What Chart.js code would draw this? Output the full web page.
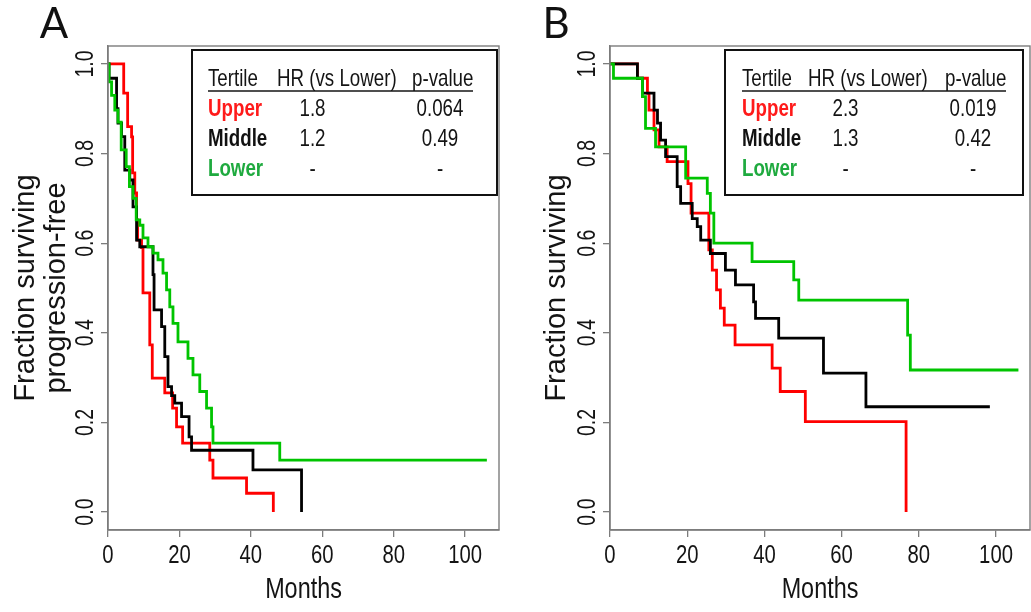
<!DOCTYPE html>
<html><head><meta charset="utf-8">
<script src="https://cdn.jsdelivr.net/npm/chart.js@4.4.1/dist/chart.umd.min.js"></script>
<style>
html,body{margin:0;padding:0;background:#fff;}
#wrap{position:relative;width:1031px;height:612px;overflow:hidden;background:#fff;}
#cA{position:absolute;left:0;top:0;}
#cB{position:absolute;left:505px;top:0;}
</style></head><body>
<div id="wrap"><canvas id="cA" width="505" height="612"></canvas><canvas id="cB" width="526" height="612"></canvas></div>
<script>
// ---------- data ----------
const xTicks = [0, 20, 40, 60, 80, 100];
const yTicks = [0, 0.2, 0.4, 0.6, 0.8, 1.0];
const seriesNames = ['Upper', 'Middle', 'Lower'];
const tableHeaders = ['Tertile', 'HR (vs Lower)', 'p-value'];
const hrA = ['1.8', '1.2', '-'];
const pA = ['0.064', '0.49', '-'];
const hrB = ['2.3', '1.3', '-'];
const pB = ['0.019', '0.42', '-'];

// Panel A (progression-free)
const upperA_t = [0, 4.4, 5.5, 6.6, 6.9, 7.5, 8.0, 8.3, 9.4, 9.8, 11.7, 12.4, 15.9, 18.1, 19.2, 20.9, 28.5, 29.4, 38.8, 46.3];
const upperA_s = [1.0, 0.935, 0.86, 0.837, 0.757, 0.712, 0.652, 0.607, 0.59, 0.489, 0.373, 0.299, 0.266, 0.232, 0.19, 0.154, 0.116, 0.076, 0.042, 0.0];
const middleA_t = [0, 0.3, 2.4, 2.8, 3.8, 4.7, 6.1, 7.0, 8.0, 8.9, 12.6, 12.9, 15.0, 15.9, 16.8, 17.8, 18.7, 20.6, 22.7, 23.4, 40.6, 54.2];
const middleA_s = [1.0, 0.968, 0.90, 0.868, 0.838, 0.763, 0.741, 0.681, 0.607, 0.592, 0.53, 0.451, 0.414, 0.347, 0.28, 0.26, 0.243, 0.213, 0.168, 0.138, 0.094, 0.0];
const lowerA_t = [0, 0.3, 1.0, 1.9, 2.8, 3.7, 5.1, 6.0, 7.0, 7.9, 8.9, 9.8, 11.2, 12.6, 14.0, 15.4, 16.4, 17.3, 18.2, 19.6, 22.4, 23.8, 25.7, 27.6, 29.0, 29.4, 48.1, 106.1];
const lowerA_s = [1.0, 0.96, 0.93, 0.897, 0.87, 0.808, 0.771, 0.726, 0.70, 0.652, 0.64, 0.612, 0.592, 0.578, 0.563, 0.533, 0.496, 0.458, 0.421, 0.38, 0.343, 0.306, 0.269, 0.232, 0.19, 0.154, 0.116, 0.116];

// Panel B (overall)
const upperB_t = [0, 7.1, 9.7, 10.1, 11.4, 12.7, 14.8, 20.2, 21.0, 25.6, 26.5, 27.6, 28.6, 29.6, 32.4, 42.0, 44.1, 50.6, 76.7];
const upperB_s = [1.0, 0.968, 0.935, 0.897, 0.853, 0.815, 0.782, 0.733, 0.667, 0.585, 0.54, 0.496, 0.455, 0.417, 0.373, 0.321, 0.269, 0.202, 0.0];
const middleB_t = [0, 7.1, 8.4, 11.4, 12.3, 13.1, 14.4, 17.4, 18.3, 21.3, 22.6, 23.5, 26.0, 29.9, 32.5, 37.2, 37.7, 43.7, 55.3, 66.3, 98.4];
const middleB_s = [1.0, 0.968, 0.935, 0.897, 0.868, 0.83, 0.793, 0.726, 0.689, 0.655, 0.637, 0.607, 0.577, 0.54, 0.507, 0.469, 0.432, 0.388, 0.31, 0.235, 0.235];
const lowerB_t = [0, 0.9, 8.4, 9.2, 11.8, 19.6, 25.2, 26.0, 26.9, 36.8, 47.6, 48.9, 77.1, 77.8, 105.8];
const lowerB_s = [1.0, 0.968, 0.927, 0.856, 0.815, 0.745, 0.711, 0.667, 0.60, 0.559, 0.518, 0.473, 0.395, 0.317, 0.317];

// ---------- styling ----------
const lineColors = ['#ff0000', '#000000', '#00c400'];
const textColors = ['#ff1a1a', '#111111', '#1faa3f'];
const COND_FAMILY = '"Liberation Sans", sans-serif';   // drawn horizontally condensed
const PLAIN_FAMILY = 'Arial, sans-serif';               // drawn without condensing
const COND = 0.78;
const AXIS_GRAY = '#7c7c7c';
const TEXT = '#141414';

// Emulate a narrow (condensed) sans face: scale glyphs along the reading direction.
function condense(ctx) {
  const orig = CanvasRenderingContext2D.prototype.fillText;
  ctx.fillText = function (text, x, y, maxWidth) {
    const hasMax = maxWidth !== undefined && maxWidth !== null;
    if (!/Liberation Sans/.test(this.font)) {
      return hasMax ? orig.call(this, text, x, y, maxWidth) : orig.call(this, text, x, y);
    }
    this.save();
    this.translate(x, y);
    this.scale(COND, 1);
    if (hasMax) orig.call(this, text, 0, 0, maxWidth / COND); else orig.call(this, text, 0, 0);
    this.restore();
  };
}

function pts(t, s) { return t.map((v, i) => ({x: v, y: s[i]})); }

function makeTablePlugin(cfg) {
  return {
    id: 'kmTable',
    afterDatasetsDraw(chart) {
      const ctx = chart.ctx;
      const a = chart.chartArea;
      ctx.save();
      ctx.strokeStyle = AXIS_GRAY;
      ctx.lineWidth = 1.4;
      ctx.strokeRect(a.left, a.top, a.right - a.left, a.bottom - a.top);
      const b = cfg.box;
      ctx.fillStyle = '#fff';
      ctx.fillRect(b[0], b[1], b[2] - b[0], b[3] - b[1]);
      ctx.strokeStyle = '#111';
      ctx.lineWidth = 2;
      ctx.strokeRect(b[0], b[1], b[2] - b[0], b[3] - b[1]);
      ctx.textBaseline = 'alphabetic';
      ctx.font = '24px ' + COND_FAMILY;
      ctx.fillStyle = TEXT;
      ctx.textAlign = 'left';
      ctx.fillText(tableHeaders[0], cfg.colTertile, cfg.rows[0]);
      ctx.fillText(tableHeaders[1], cfg.colHRhead, cfg.rows[0]);
      ctx.fillText(tableHeaders[2], cfg.colPhead, cfg.rows[0]);
      ctx.strokeStyle = TEXT;
      ctx.lineWidth = 1.5;
      ctx.beginPath();
      ctx.moveTo(cfg.colTertile, cfg.underline);
      ctx.lineTo(cfg.underlineEnd, cfg.underline);
      ctx.stroke();
      for (let i = 0; i < 3; i++) {
        const y = cfg.rows[i + 1];
        ctx.textAlign = 'left';
        ctx.font = 'bold 24px ' + COND_FAMILY;
        ctx.fillStyle = textColors[i];
        ctx.fillText(seriesNames[i], cfg.colTertile, y);
        ctx.font = '24px ' + COND_FAMILY;
        ctx.fillStyle = TEXT;
        ctx.textAlign = 'center';
        ctx.fillText(cfg.hr[i], cfg.colHR, y);
        ctx.fillText(cfg.p[i], cfg.colP, y);
      }
      ctx.font = '42px Lato, "Open Sans", sans-serif';
      ctx.fillStyle = '#111';
      ctx.textAlign = 'center';
      ctx.fillText(cfg.letter, cfg.letterX, 38);
      ctx.restore();
    }
  };
}

function makePanel(canvas, p) {
  condense(canvas.getContext('2d'));
  const datasets = p.series.map((s, i) => ({
    label: seriesNames[i],
    data: pts(s[0], s[1]),
    borderColor: lineColors[i],
    borderWidth: 2.8,
    pointRadius: 0,
    fill: false,
    stepped: 'before',
    order: 3 - i
  }));
  return new Chart(canvas, {
    type: 'line',
    data: {datasets},
    options: {
      responsive: false,
      animation: false,
      devicePixelRatio: 1,
      layout: {padding: {top: 46, right: p.padRight, left: 0, bottom: 0}},
      plugins: {legend: {display: false}, tooltip: {enabled: false}},
      scales: {
        x: {
          type: 'linear', min: 0, max: p.xMax,
          afterBuildTicks: s => { s.ticks = xTicks.map(v => ({value: v})); },
          afterFit: s => { s.height = 82; },
          grid: {drawOnChartArea: false, drawTicks: true, tickLength: 7, color: AXIS_GRAY, lineWidth: 1.3},
          border: {display: true, color: AXIS_GRAY, width: 1.4},
          ticks: {color: TEXT, font: {size: 26, family: COND_FAMILY}, padding: 3, maxRotation: 0, minRotation: 0, autoSkip: false,
                  callback: v => String(v)},
          title: {display: true, text: 'Months', color: TEXT, font: {size: 30, family: COND_FAMILY}, padding: {top: 0, bottom: 4}}
        },
        y: {
          type: 'linear', min: -0.04, max: 1.04,
          afterBuildTicks: s => { s.ticks = yTicks.map(v => ({value: v})); },
          afterFit: s => { s.width = p.yWidth; },
          grid: {drawOnChartArea: false, drawTicks: true, tickLength: 7, color: AXIS_GRAY, lineWidth: 1.3},
          border: {display: true, color: AXIS_GRAY, width: 1.4},
          ticks: {color: TEXT, font: {size: 25, family: COND_FAMILY}, padding: -2, minRotation: 90, maxRotation: 90,
                  crossAlign: 'center', autoSkip: false, callback: v => v.toFixed(1)},
          title: {display: true, text: p.yTitle, color: TEXT, font: {size: 29, family: PLAIN_FAMILY, lineHeight: 1.07},
                  padding: {top: p.yTitlePad, bottom: 0}}
        }
      }
    },
    plugins: [makeTablePlugin(p.table)]
  });
}

makePanel(document.getElementById('cA'), {
  series: [[upperA_t, upperA_s], [middleA_t, middleA_s], [lowerA_t, lowerA_s]],
  xMax: 109.5, padRight: 6, yWidth: 108, yTitlePad: 10.5,
  yTitle: ['Fraction surviving', 'progression-free'],
  table: {box: [192, 50, 497, 195], rows: [86, 116, 146, 176], underline: 91, underlineEnd: 473,
          colTertile: 208, colHRhead: 277, colPhead: 412, colHR: 312.5, colP: 440,
          hr: hrA, p: pA, letter: 'A', letterX: 54}
});
makePanel(document.getElementById('cB'), {
  series: [[upperB_t, upperB_s], [middleB_t, middleB_s], [lowerB_t, lowerB_s]],
  xMax: 108.8, padRight: 1, yWidth: 105, yTitlePad: 36,
  yTitle: 'Fraction surviving',
  table: {box: [220, 50, 518, 195], rows: [86, 116, 146, 176], underline: 91, underlineEnd: 501,
          colTertile: 237, colHRhead: 303, colPhead: 440, colHR: 340.5, colP: 468,
          hr: hrB, p: pB, letter: 'B', letterX: 51}
});
</script>
</body></html>
